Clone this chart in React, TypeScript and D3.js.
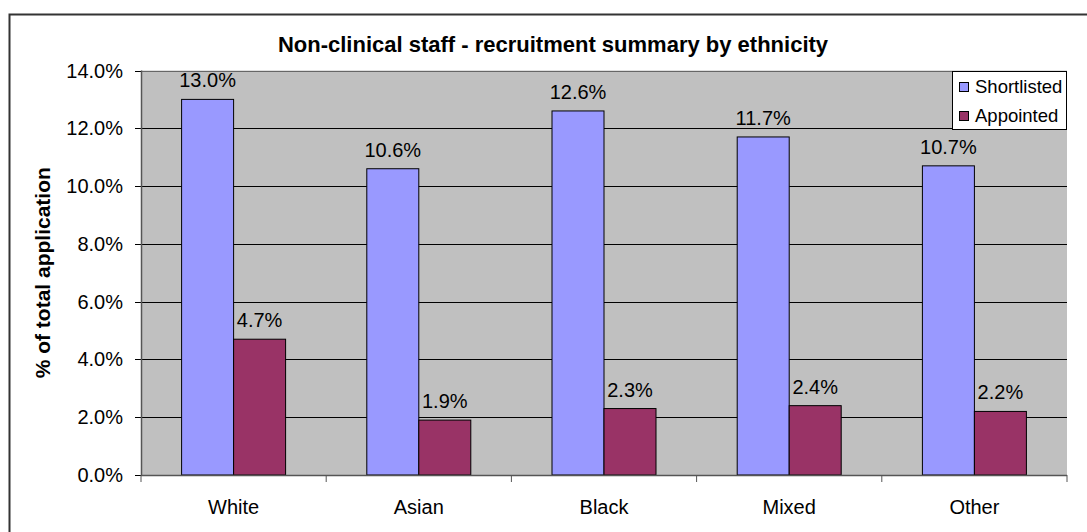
import React from "react";
import * as d3 from "d3";

const categories = ["White", "Asian", "Black", "Mixed", "Other"];
const seriesNames = ["Shortlisted", "Appointed"];
const shortlisted = [13.0, 10.6, 12.6, 11.7, 10.7];
const appointed = [4.7, 1.9, 2.3, 2.4, 2.2];
const yTicks = [0, 2, 4, 6, 8, 10, 12, 14];
const colors = ["#9999FF", "#993366"];
const title = "Non-clinical staff - recruitment summary by ethnicity";
const yTitle = "% of total application";

export default function App() {
  const W = 1087, H = 532;
  const left = 141, right = 1067, top = 70.5, bottom = 475;
  const x = d3.scaleBand<string>().domain(categories).range([left, right]);
  const y = d3.scaleLinear().domain([0, 14]).range([bottom, top]);
  const barW = 52;
  const series = [shortlisted, appointed];
  const font = "Arial, 'Liberation Sans', sans-serif";
  return (
    <svg width={W} height={H} style={{ position: "absolute", left: 0, top: 0 }} fontFamily={font}>
      <rect x={0} y={0} width={W} height={H} fill="#fff" />
      <rect x={9.5} y={14.5} width={W + 20} height={H + 20} fill="#fff" stroke="#333" strokeWidth={2} />
      <text x={553} y={52} textAnchor="middle" fontSize={22} fontWeight="bold" fill="#000">{title}</text>
      <rect x={left} y={top} width={right - left} height={bottom - top} fill="#C0C0C0" />
      {yTicks.map((t) => (
        <g key={t}>
          <line x1={left} x2={right} y1={Math.round(y(t)) + 0.5} y2={Math.round(y(t)) + 0.5} stroke={t === 14 ? "#666" : "#000"} strokeWidth={1} />
          <line x1={left - 6} x2={left} y1={Math.round(y(t)) + 0.5} y2={Math.round(y(t)) + 0.5} stroke="#000" />
          <text x={123} y={y(t) + 7} textAnchor="end" fontSize={20} fill="#000">{t.toFixed(1) + "%"}</text>
        </g>
      ))}
      {series.map((vals, si) =>
        vals.map((v, i) => {
          const cx = (x(categories[i]) as number) + x.bandwidth() / 2;
          const bx = cx - barW + si * barW;
          return (
            <g key={si + "-" + i}>
              <rect x={bx} y={y(v)} width={barW} height={bottom - y(v)} fill={colors[si]} stroke="#000" strokeWidth={1} />
              <text x={bx + barW / 2} y={y(v) - 12} textAnchor="middle" fontSize={20} fill="#000">{v.toFixed(1) + "%"}</text>
            </g>
          );
        })
      )}
      <line x1={left + 0.5} x2={left + 0.5} y1={top} y2={bottom} stroke="#555" strokeWidth={1.5} />
      <line x1={left} x2={right} y1={bottom + 0.5} y2={bottom + 0.5} stroke="#555" strokeWidth={1.5} />
      {d3.range(categories.length + 1).map((k) => {
        const tx = left + k * x.step();
        return <line key={k} x1={tx} x2={tx} y1={bottom} y2={bottom + 7} stroke="#555" />;
      })}
      {categories.map((c) => (
        <text key={c} x={(x(c) as number) + x.bandwidth() / 2} y={514} textAnchor="middle" fontSize={20} fill="#000">{c}</text>
      ))}
      <text transform={`translate(50, ${(top + bottom) / 2}) rotate(-90)`} textAnchor="middle" fontSize={21} fontWeight="bold" fill="#000">{yTitle}</text>
      <g>
        <rect x={952.5} y={71.5} width={114} height={58} fill="#fff" stroke="#000" strokeWidth={1} />
        {seriesNames.map((s, i) => (
          <g key={s}>
            <rect x={959.5} y={82.5 + i * 29} width={9} height={9} fill={colors[i]} stroke="#000" />
            <text x={975} y={93 + i * 29} fontSize={18.5} fill="#000">{s}</text>
          </g>
        ))}
      </g>
    </svg>
  );
}
